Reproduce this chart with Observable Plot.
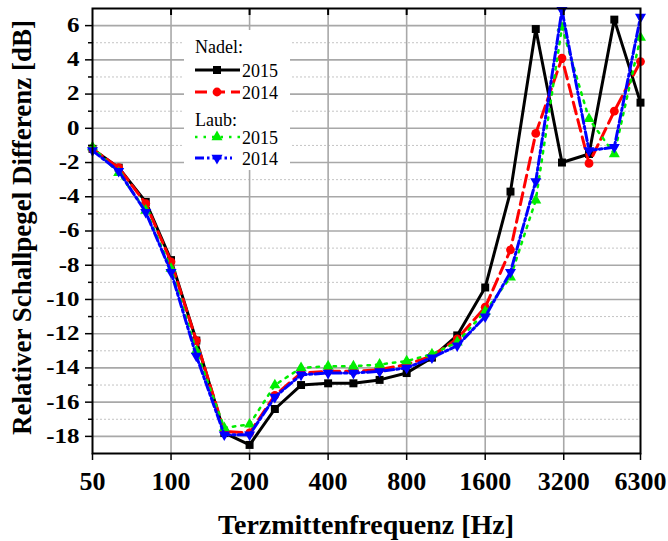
<!DOCTYPE html>
<html><head><meta charset="utf-8">
<script src="https://cdn.jsdelivr.net/npm/d3@7"></script>
<script src="https://cdn.jsdelivr.net/npm/@observablehq/plot@0.6"></script>
<style>body{margin:0;background:#fff} svg{display:block}</style>
</head><body><div id="chart"></div>
<script>
// Terzmittenfrequenzen [Hz]
const freqs = [50,63,80,100,125,160,200,250,315,400,500,630,800,1000,1250,1600,2000,2500,3150,4000,5000,6300];
// Relativer Schallpegel Differenz [dB]
const nadel2015 = [-1.2,-2.3,-4.3,-7.7,-12.4,-17.8,-18.5,-16.4,-15.0,-14.9,-14.9,-14.7,-14.3,-13.4,-12.1,-9.3,-3.7,5.8,-2.0,-1.5,6.35,1.5];
const nadel2014 = [-1.2,-2.3,-4.4,-7.8,-12.4,-17.7,-17.8,-15.6,-14.3,-14.2,-14.2,-14.1,-13.8,-13.3,-12.3,-10.45,-7.1,-0.3,4.1,-2.05,1.0,3.9];
const laub2015  = [-1.1,-2.6,-4.8,-8.2,-13.0,-17.5,-17.3,-15.0,-14.0,-13.9,-13.9,-13.8,-13.6,-13.2,-12.5,-10.7,-8.7,-4.2,5.9,0.55,-1.5,5.3];
const laub2014  = [-1.3,-2.5,-4.9,-8.4,-13.3,-17.9,-17.9,-15.7,-14.4,-14.3,-14.3,-14.2,-14.0,-13.4,-12.7,-11.0,-8.4,-3.1,6.9,-1.3,-1.1,6.5];
const xTicks = [50,100,200,400,800,1600,3200,6300];
const xInner = [100,200,400,800,1600,3200];
const yTicks = [-18,-16,-14,-12,-10,-8,-6,-4,-2,0,2,4,6];
const yMinor = [-17,-15,-13,-11,-9,-7,-5,-3,-1,1,3,5];

const W = 668, H = 541, mL = 92, mR = 28, mT = 8, mB = 88;
const serif = "'Liberation Serif','Times New Roman',serif";

const triDown = { draw(ctx, size) {
  const y = -Math.sqrt(size / (3 * Math.sqrt(3)));
  ctx.moveTo(0, -y * 2); ctx.lineTo(-Math.sqrt(3) * y, y); ctx.lineTo(Math.sqrt(3) * y, y); ctx.closePath();
}};

const series = [
  {name: "Nadel 2015", vals: nadel2015, color: "#000000", dash: null, width: 3, symbol: "square", r: 4.5},
  {name: "Nadel 2014", vals: nadel2014, color: "#ff0000", dash: "12,6", width: 3, symbol: "circle", r: 4.4},
  {name: "Laub 2015", vals: laub2015, color: "#00ee00", dash: "2.5,6", width: 2.5, symbol: "triangle", r: 4.1},
  {name: "Laub 2014", vals: laub2014, color: "#0000ff", dash: "9,3,2.5,3", width: 3, symbol: triDown, r: 4.1}
];
const rows = series.map(s => freqs.map((f, i) => ({f, v: s.vals[i]})));

const legendBg = (index, scales, values, dims) => {
  const r = document.createElementNS("http://www.w3.org/2000/svg", "rect");
  r.setAttribute("x", 184); r.setAttribute("y", 30); r.setAttribute("width", 106); r.setAttribute("height", 140);
  r.setAttribute("fill", "#fff");
  return r;
};

const marks = [
  Plot.gridY(yMinor, {stroke: "#c4c4c4", strokeOpacity: 1, strokeWidth: 1, strokeDasharray: "2,2"}),
  Plot.gridY(yTicks, {stroke: "#a8a8a8", strokeOpacity: 1, strokeWidth: 1.6}),
  Plot.gridX(xInner, {stroke: "#a8a8a8", strokeOpacity: 1, strokeWidth: 1.6}),
  legendBg
];
series.forEach((s, k) => {
  marks.push(Plot.line(rows[k], {x: "f", y: "v", stroke: s.color, strokeWidth: s.width, strokeDasharray: s.dash, strokeLinejoin: "miter"}));
  marks.push(Plot.dot(rows[k], {x: "f", y: "v", fill: s.color, stroke: "none", symbol: s.symbol, r: s.r}));
});
marks.push(
  Plot.frame({stroke: "#000", strokeWidth: 2}),
  Plot.ruleX(xInner, {stroke: "#000", strokeWidth: 2, insetBottom: H - mT - mB - 7}),
  Plot.axisY(yTicks, {tickSize: 7, tickPadding: 6, fontSize: 20, fontWeight: "bold", label: null, strokeWidth: 1.5, tickFormat: d => String(d)}),
  Plot.axisY(yMinor, {tickSize: 4, text: null, label: null, strokeWidth: 1.5}),
  Plot.axisX(xTicks, {tickSize: 7, text: null, label: null, strokeWidth: 1.5}),
  Plot.text(xTicks, {x: d => d, text: d => String(d), frameAnchor: "bottom", lineAnchor: "top", dy: 18, fontSize: 26, fontWeight: "bold", fill: "#000"})
);

const svg = Plot.plot({
  width: W, height: H, marginLeft: mL, marginRight: mR, marginTop: mT, marginBottom: mB,
  x: {type: "log", domain: [50, 6300]},
  y: {domain: [-19, 7]},
  style: {fontFamily: serif, background: "#fff", color: "#000", overflow: "visible"},
  marks
});
document.getElementById("chart").appendChild(svg);

// widen y tick labels horizontally like the reference
const yLab = svg.querySelectorAll('g[aria-label="y-axis tick label"] text');
yLab.forEach(t => {
  const tr = t.getAttribute("transform");
  if (tr) t.setAttribute("transform", tr + " scale(1.25,1)");
  else {
    const x = +t.getAttribute("x") || 0, y = +t.getAttribute("y") || 0;
    t.removeAttribute("x"); t.removeAttribute("y");
    t.setAttribute("transform", `translate(${x},${y}) scale(1.25,1)`);
  }
});

const s = d3.select(svg);
s.append("text").attr("x", (mL + W - mR) / 2).attr("y", 534).attr("text-anchor", "middle")
  .attr("font-family", serif).attr("font-weight", "bold").attr("font-size", 28).attr("fill", "#000")
  .text("Terzmittenfrequenz [Hz]");
s.append("text").attr("transform", `translate(31,${(mT + H - mB) / 2 - 3}) rotate(-90)`).attr("text-anchor", "middle")
  .attr("font-family", serif).attr("font-weight", "bold").attr("font-size", 27).attr("fill", "#000")
  .text("Relativer Schallpegel Differenz [dB]");

// legend
const lg = s.append("g").attr("font-family", serif).attr("fill", "#000").attr("text-anchor", "start");
lg.append("text").attr("x", 195).attr("y", 53).attr("font-size", 18).text("Nadel:");
lg.append("text").attr("x", 195).attr("y", 126).attr("font-size", 18).text("Laub:");
const legRows = [
  {k: 0, y: 70, x1: 195, x2: 240, label: "2015"},
  {k: 1, y: 92, x1: 195, x2: 240, label: "2014"},
  {k: 2, y: 137, x1: 195, x2: 240, label: "2015"},
  {k: 3, y: 158, x1: 195, x2: 232, label: "2014"}
];
legRows.forEach(r => {
  const se = series[r.k];
  lg.append("line").attr("x1", r.x1).attr("x2", r.x2).attr("y1", r.y).attr("y2", r.y)
    .attr("stroke", se.color).attr("stroke-width", se.width).attr("stroke-dasharray", se.dash);
  const sym = typeof se.symbol === "string"
    ? d3.symbol({square: d3.symbolSquare, circle: d3.symbolCircle, triangle: d3.symbolTriangle}[se.symbol], se.r * se.r * Math.PI)
    : d3.symbol(se.symbol, se.r * se.r * Math.PI);
  lg.append("path").attr("d", sym()).attr("transform", `translate(217,${r.y})`).attr("fill", se.color);
  lg.append("text").attr("x", 242).attr("y", r.y + 6.5).attr("font-size", 18).text(r.label);
});
</script></body></html>
